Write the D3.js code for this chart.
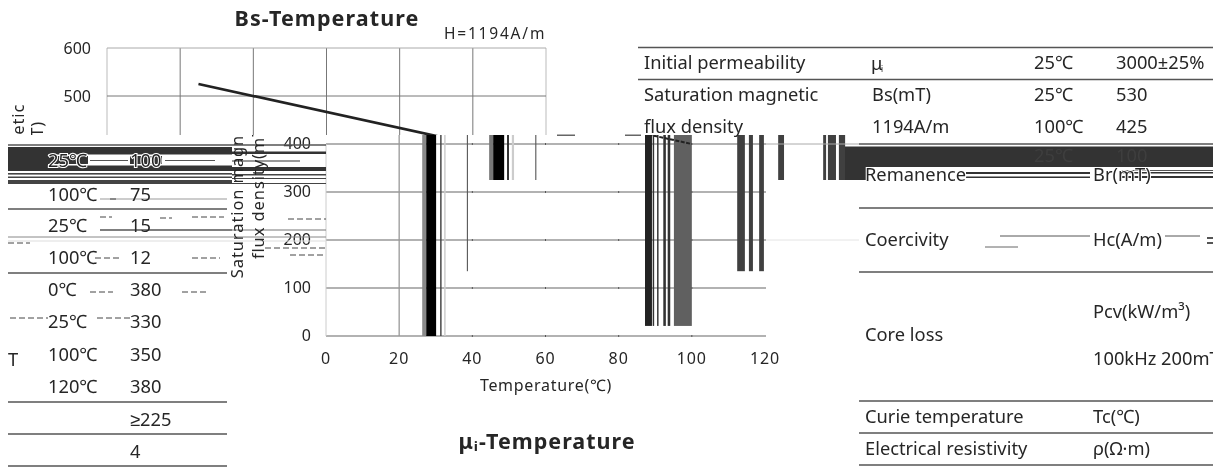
<!DOCTYPE html>
<html><head><meta charset="utf-8">
<script src="https://cdn.jsdelivr.net/npm/d3@7"></script>
<style>html,body{margin:0;padding:0;background:#fff;overflow:hidden}
svg{display:block;filter:blur(.35px)}text{font-family:"Noto Sans",sans-serif;fill:#262626}</style></head>
<body><svg id="c" width="1226" height="469"></svg>
<script>
// ---- chart data ----
const xTicks=[0,20,40,60,80,100,120];
const yTicks=[0,100,200,300,400,500,600];
const lineTemps=[25,100];
const lineValues=[525,400];
// vertical streaks: [from °C, to °C, lower end value, shade]
const streaks=[
 [26.3,27.4,0,"#8a8a8a"],[27.4,30.1,0,"#000"],[31.2,31.6,0,"#444"],[32.3,32.7,0,"#ccc"],[38.5,38.8,135,"#555"],
 [44.6,45.7,325,"#777"],[45.7,48.7,325,"#000"],[49.5,50,325,"#222"],[50.8,51.4,325,"#ccc"],[57.2,57.5,325,"#555"],
 [87.2,89.1,21,"#222"],[89.3,89.7,21,"#333"],[90.5,90.9,21,"#333"],[92.2,92.9,21,"#333"],[93.4,94.1,21,"#333"],[95.1,100,21,"#606060"],
 [112.4,114.5,135,"#404040"],[115.6,116.7,135,"#404040"],[118.4,119.7,135,"#404040"],[123.6,125.2,325,"#404040"],
 [135.9,136.7,325,"#404040"],[137.2,139.4,325,"#404040"],[140.2,141.9,325,"#404040"]];
// table contents
const tableTop=[["Initial permeability","μ","25℃","3000±25%",63],["Saturation magnetic","Bs(mT)","25℃","530",95],["flux density","1194A/m","100℃","425",127]];
const tableRight=[["Remanence","Br(mT)",175],["Coercivity","Hc(A/m)",240],["Core loss","Pcv(kW/m³)",312],["","100kHz 200mT",359],["Curie temperature","Tc(℃)",417],["Electrical resistivity","ρ(Ω·m)",449]];
const tableLeft=[["25℃","100",161],["100℃","75",195],["25℃","15",226],["100℃","12",258],["0℃","380",290],["25℃","330",322],["100℃","350",355],["120℃","380",387],["","≥225",420],["","4",452]];

const svg=d3.select("#c"),defs=svg.append("defs");
function clip(id,x,y,w,h){defs.append("clipPath").attr("id",id).append("rect").attr("x",x).attr("y",y).attr("width",w).attr("height",h)}
clip("top",0,0,1226,135);clip("low",0,135,1226,334);clip("frag",640,135,56,11);clip("tbl",0,0,1213,469);

const xUp=d3.scaleLinear().domain([0,120]).range([107,546]);
const xLow=d3.scaleLinear().domain([0,120]).range([326,765]);
const y=d3.scaleLinear().domain([0,600]).range([336,48]);
function T(g,s,x,yy,o={}){return g.append("text").attr("x",x).attr("y",yy).attr("dy",".35em").attr("font-size",o.fs||18.3)
 .attr("text-anchor",o.a||"start").attr("font-weight",o.w||400).attr("letter-spacing",o.ls||0).text(s)}
function rule(g,x0,x1,yy,c,w){g.append("line").attr("x1",x0).attr("x2",x1).attr("y1",yy).attr("y2",yy).attr("stroke",c||"#555").attr("stroke-width",w||1.3)}
function box(g,x0,x1,y0,y1,c){g.append("rect").attr("x",x0).attr("y",y0).attr("width",x1-x0).attr("height",y1-y0).attr("fill",c)}

// upper, intact part of the plot
const up=svg.append("g").attr("clip-path","url(#top)");
up.selectAll(".v").data(xTicks).join("line").attr("x1",d=>xUp(d)).attr("x2",d=>xUp(d)).attr("y1",y(600)).attr("y2",135).attr("stroke",(d,i)=>i==0||i==6?"#bbb":"#777").attr("stroke-width",1);
up.selectAll(".h").data([500,600]).join("line").attr("x1",xUp(0)).attr("x2",xUp(120)).attr("y1",d=>y(d)).attr("y2",d=>y(d)).attr("stroke",(d,i)=>i?"#aaa":"#777");
const lineGen=sx=>d3.line().x((d,i)=>sx(lineTemps[i])).y(d=>y(d));
up.append("path").datum(lineValues).attr("d",lineGen(xUp)).attr("fill","none").attr("stroke","#222").attr("stroke-width",2.7);
[500,600].forEach(v=>T(svg,v,91,y(v),{a:"end",fs:16}));

function yLabels(g,x1,x2){
 [["Saturation magnetic",x1,191],["flux density(mT)",x2,190]].forEach(([s,x,c])=>{
  g.append("text").attr("transform",`translate(${x},${c}) rotate(-90)`).attr("dy",".35em").attr("text-anchor","middle").attr("font-size",16.5).attr("letter-spacing",.9).text(s);});
}
yLabels(svg.append("g").attr("clip-path","url(#top)"),18,37);

// titles
T(svg,"Bs-Temperature",327,18,{a:"middle",fs:21.5,w:700,ls:1.1});
T(svg,"H=1194A/m",444,34,{fs:15.5,ls:1.8});
T(svg,"μᵢ-Temperature",547,441,{a:"middle",fs:21.5,w:700,ls:1});

// lower plot
const lo=svg.append("g").attr("clip-path","url(#low)");
lo.selectAll(".h").data([0,100,200,300,400]).join("line").attr("x1",xLow(0)).attr("x2",xLow(120)+1).attr("y1",d=>y(d)).attr("y2",d=>y(d)).attr("stroke","#999").attr("stroke-width",1.4);
lo.append("line").attr("x1",xLow(0)).attr("x2",xLow(0)).attr("y1",y(400)).attr("y2",y(0)).attr("stroke","#ccc");
lo.append("line").attr("x1",xLow(20)).attr("x2",xLow(20)).attr("y1",135).attr("y2",y(0)).attr("stroke","#999").attr("stroke-width",1.3);
xTicks.slice(2,6).forEach(t=>[0,100,200,300,400].forEach(v=>box(lo,xLow(t)-.5,xLow(t)+.5,y(v)-1,y(v)+1,"#555")));
lo.selectAll(".s").data(streaks).join("rect").attr("x",d=>xLow(d[0])).attr("width",d=>xLow(d[1])-xLow(d[0])).attr("y",135).attr("height",d=>y(d[2])-135).attr("fill",d=>d[3]);
// displaced piece of the curve, broken up
svg.append("path").datum(lineValues).attr("clip-path","url(#frag)").attr("d",lineGen(xLow)).attr("fill","none").attr("stroke","#222").attr("stroke-width",2).attr("stroke-dasharray","4 1.5");
box(svg,557,575,134.5,136,"#666");box(svg,625,641,134.5,136,"#666");

yTicks.slice(0,5).forEach(v=>T(svg,v,311,y(v)-.5,{a:"end",fs:16}));
xTicks.forEach(t=>T(svg,t,xLow(t),358,{a:"middle",fs:16,ls:.9}));
T(svg,"Temperature(℃)",546,385,{a:"middle",fs:16,ls:.7});

// top right table
rule(svg,638,1213,47.5);rule(svg,638,1213,79.5);
tableTop.forEach(r=>{T(svg,r[0],644,r[4]);T(svg,r[2],1034,r[4]);T(svg,r[3],1116,r[4]);
 if(r[1]=="μ"){T(svg,"μ",871,r[4]+1);T(svg,"i",881,r[4]+6,{fs:8})}else T(svg,r[1],872,r[4]);});

// left table rules
[[8,227,209],[8,227,273],[8,227,402],[8,227,434],[8,227,466]].forEach(r=>rule(svg,r[0],r[1],r[2]));
rule(svg,100,227,199,"#999",1);rule(svg,100,232,230);rule(svg,232,326,230,"#777",1);rule(svg,8,326,237,"#888",1);rule(svg,8,326,241,"#ddd",1);
// broken scan-line fragments
const frags=[[90,113,292],[182,207,292],[10,48,318],[97,130,318],[95,122,258],[192,220,258],[290,326,255],[100,112,217],[160,172,218],[192,224,217],[265,326,248],[288,326,219],[110,118,199],[8,30,243]];
frags.forEach(f=>svg.append("line").attr("x1",f[0]).attr("x2",f[1]).attr("y1",f[2]).attr("y2",f[2]).attr("stroke","#444").attr("stroke-dasharray","6 3"));

// dark bands
rule(svg,8,326,145,"#555",1.6);
box(svg,8,232,147,171,"#333");box(svg,232,326,151.5,154,"#333");box(svg,232,326,167,171,"#333");
[[8,232,173,174.6],[8,232,176.5,178],[8,232,180,184],[232,326,174,175.5],[232,326,178,179],[232,326,183,184]].forEach(b=>box(svg,b[0],b[1],b[2],b[3],"#444"));
box(svg,48,232,154.5,156,"#fff");box(svg,48,232,164,165.5,"#fff");box(svg,88,130,156,164,"#fff");box(svg,162,232,156,164,"#fff");
box(svg,232,300,160,162,"#999");box(svg,90,128,160,161,"#555");box(svg,165,215,160,161,"#555");
yLabels(svg.append("g").attr("clip-path","url(#low)"),237,258);
rule(svg,859,1213,144,"#555",1.6);
box(svg,845,1213,146.5,167,"#333");box(svg,845,866,167,180,"#333");
box(svg,866,1213,167,169,"#fff");box(svg,866,1213,180,182,"#fff");
box(svg,966,1090,172,174,"#333");box(svg,966,1090,176.5,178,"#333");box(svg,1120,1213,172,173.5,"#333");box(svg,1120,1213,176,178,"#333");box(svg,1120,1213,170,171,"#555");
T(svg,"25℃",1034,156).style("fill","#3e3e3e");T(svg,"100",1116,156).style("fill","#3e3e3e");
// remaining right rules
[208,272,401,433,465].forEach(v=>rule(svg,859,1213,v));
rule(svg,766,859,144,"#aaa",1);rule(svg,766,859,240,"#e4e4e4",1);rule(svg,1000,1090,236,"#555",1);rule(svg,1165,1200,236,"#555",1);
rule(svg,985,1018,247,"#666",1);rule(svg,1207,1213,238,"#555",2);rule(svg,1207,1213,243,"#555",2);

// left and right table text
tableLeft.forEach(r=>{const a=T(svg,r[0],48,r[2]),b=T(svg,r[1],130,r[2]);
 if(r[2]==161)[a,b].forEach(t=>t.attr("stroke","#fff").attr("stroke-width",2).attr("paint-order","stroke"));});
T(svg,"T",8,360);
const rt=svg.append("g").attr("clip-path","url(#tbl)");
tableRight.forEach(r=>{const a=T(rt,r[0],865,r[2]==312?335:r[2]),b=T(rt,r[1],1093,r[2]);
 if(r[2]==175)[a,b].forEach(t=>t.attr("stroke","#fff").attr("stroke-width",2).attr("paint-order","stroke"));});
</script></body></html>
